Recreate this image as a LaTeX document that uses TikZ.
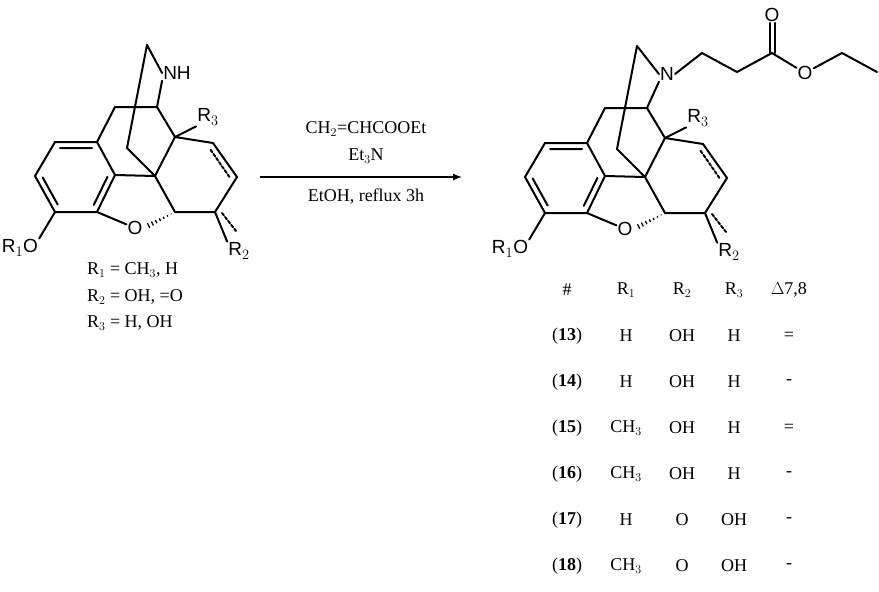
\documentclass[tikz,border=0pt]{standalone}
\usepackage{fontspec}
\setmainfont{Liberation Serif}
\newfontfamily\atomfont{Liberation Sans}
\usetikzlibrary{calc}

\tikzset{
  bond/.style = {line width=2pt, line cap=round},
  atom/.style = {font=\atomfont\fontsize{19}{19}\selectfont, inner sep=1pt},
  txt/.style = {font=\fontsize{18}{20}\selectfont, inner sep=1pt},
}

% morphinan skeleton, nitrogen label as argument
\newcommand{\skeleton}[1]{%
  \coordinate (top) at (147,45);
  \node[atom] (N) at (177,73) {#1};
  \coordinate (C9) at (157,107);
  \coordinate (C10) at (115,107);
  \coordinate (C14) at (175,137);
  \coordinate (C8) at (213,143);
  \coordinate (C7) at (237,177);
  \coordinate (C6) at (215,212);
  \coordinate (C5) at (175,212);
  \coordinate (C13) at (155,176);
  \coordinate (C15) at (127,148);
  \coordinate (C11) at (97,142);
  \coordinate (C12) at (115,175);
  \coordinate (C4) at (97,212);
  \coordinate (C3) at (55,212);
  \coordinate (C2) at (35,176);
  \coordinate (C1) at (55,142);
  \node[atom] (O) at (135,228) {O};
  \node[atom] (OR) at (20,248) {R$_1$O};
  \node[atom] (R2) at (239,251) {R$_2$};
  \node[atom] (R3) at (208,117) {R$_3$};
  \draw[bond] (top) -- (N.west) (N.south west) -- (C9) -- (C10) -- (C11) -- (C1) -- (C2)
    -- (C3) -- (C4) -- (C12) -- (C11) (C12) -- (C13) -- (C14) -- (C9)
    (C14) -- (C8) -- (C7) -- (C6) -- (C5) -- (C13) -- (C15) -- (top)
    (C4) -- (O) (C3) -- (OR.north east) (C14) -- (R3.south west) (C6) -- (R2.north west);
  \draw[bond] (60,148) -- (92,148) (42.7,177.5) -- (57.7,204.6) (107.4,176.9) -- (93.8,204.9);
  \draw[bond, dash pattern=on 3pt off 2pt] (210.6,149.8) -- (229.6,177.2) (222,213) -- (236,231);
  % hashed bond
  \foreach \t in {0.12,0.24,...,0.96}
    \draw[line width=1.3pt] ($(C5)!\t!(O.east)!3*\t pt!90:(O.east)$) -- ($(C5)!\t!(O.east)!3*\t pt!-90:(O.east)$);
}

\begin{document}
\begin{tikzpicture}[x=1pt, y=-1pt]
\useasboundingbox (0,0) rectangle (879,592);
\begin{scope}[name prefix=L-]
  \skeleton{NH}
\end{scope}
\begin{scope}[shift={(490,1)}, name prefix=P-]
  \skeleton{N}
  \coordinate (a1) at (212,52);
  \coordinate (a2) at (247,71);
  \coordinate (a3) at (282,52);
  \node[atom] (Od) at (282,14) {O};
  \node[atom] (Oe) at (315,72) {O};
  \coordinate (e1) at (352,52);
  \coordinate (e2) at (387,71);
  \draw[bond] (N.east) -- (a1) -- (a2) -- (a3) -- (Oe) -- (e1) -- (e2);
  \draw[bond] ([xshift=-2.5pt]a3) -- ([xshift=-2.5pt]Od.south) ([xshift=2.5pt]a3) -- ([xshift=2.5pt]Od.south);
\end{scope}

\node[txt, anchor=west] (r1) at (86,270) {R$_1$ = CH$_3$, H};
\node[txt, anchor=west] (r2) at (86,297) {R$_2$ = OH, =O};
\node[txt, anchor=west] (r3) at (86,323) {R$_3$ = H, OH};

\node[txt] (reag1) at (366,129) {CH$_2$=CHCOOEt};
\node[txt] (reag2) at (366,156) {Et$_3$N};
\node[txt] (reag3) at (366,197) {EtOH, reflux 3h};
\coordinate (arrL) at (260,177);
\coordinate (arrR) at (462,177);
\draw[line width=2pt, -latex] (arrL) -- (arrR);

% table
\foreach \c/\x in {\#/567, R$_1$/626, R$_2$/682, R$_3$/734, {$\Delta$7,8}/789}
  \node[txt] (h\x) at (\x,290) {\c};
\foreach \n/\a/\b/\cc/\d [count=\i] in {13/H/OH/H/=, 14/H/OH/H/-, 15/CH$_3$/OH/H/=,
    16/CH$_3$/OH/H/-, 17/H/O/OH/-, 18/CH$_3$/O/OH/-} {
  \node[txt] (id\i) at (567,290+46*\i) {(\textbf{\n})};
  \node[txt] (a\i) at (626,290+46*\i) {\a};
  \node[txt] (b\i) at (682,290+46*\i) {\b};
  \node[txt] (c\i) at (734,290+46*\i) {\cc};
  \node[txt] (d\i) at (789,290+46*\i) {\d};
}
\end{tikzpicture}
\end{document}
